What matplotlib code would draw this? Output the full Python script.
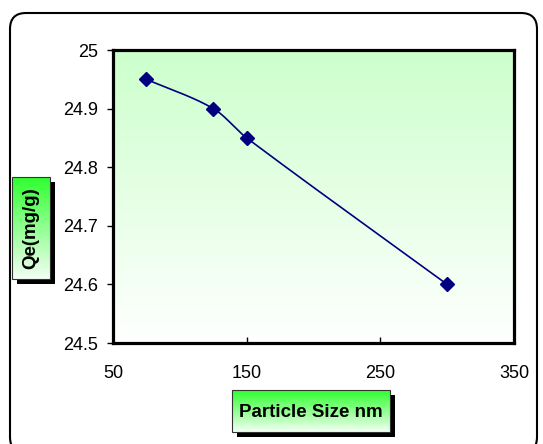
import numpy as np
import matplotlib
matplotlib.use("Agg")
import matplotlib.pyplot as plt
from matplotlib.patches import FancyBboxPatch, Rectangle
from matplotlib.colors import LinearSegmentedColormap

particle_size = [75, 125, 150, 300]
qe = [24.95, 24.90, 24.85, 24.60]
x_ticks = [50, 150, 250, 350]
y_ticks = [24.5, 24.6, 24.7, 24.8, 24.9, 25.0]
y_tick_labels = ["24.5", "24.6", "24.7", "24.8", "24.9", "25"]
x_label = "Particle Size nm"
y_label = "Qe(mg/g)"

W, H = 543, 444
plt.rcParams['font.family'] = ['Liberation Sans', 'DejaVu Sans']
fig = plt.figure(figsize=(W / 100, H / 100), dpi=100)

# overlay axes in pixel coordinates
ov = fig.add_axes([0, 0, 1, 1], zorder=0)
ov.set_xlim(0, W)
ov.set_ylim(H, 0)
ov.axis('off')

border = FancyBboxPatch((10, 13), 527, 440, boxstyle="round,pad=0,rounding_size=16",
                        fc='white', ec='black', lw=1.5)
ov.add_patch(border)

box_cmap = LinearSegmentedColormap.from_list('g', ['#2EFF2E', '#F4FFF4'])
grad = np.linspace(0, 1, 256).reshape(-1, 1)


def label_box(x0, y0, w, h, text, rotation):
    ov.add_patch(Rectangle((x0 + 5, y0 + 5), w, h, fc='black', ec='none', zorder=1))
    ov.imshow(grad, cmap=box_cmap, extent=[x0, x0 + w, y0 + h, y0], aspect='auto',
              zorder=2, interpolation='bilinear')
    ov.add_patch(Rectangle((x0, y0), w, h, fc='none', ec='#333333', lw=0.8, zorder=3))
    ov.text(x0 + w / 2, y0 + h / 2 + (0 if rotation else 1), text, rotation=rotation,
            ha='center', va='center', fontsize=13.5, fontweight='bold', zorder=4)


label_box(12, 177, 38, 102, y_label, 90)
label_box(232, 390, 158, 42, x_label, 0)
ov.set_xlim(0, W)
ov.set_ylim(H, 0)

# main axes
left, top, right, bottom = 113, 50, 514, 343
ax = fig.add_axes([left / W, 1 - bottom / H, (right - left) / W, (bottom - top) / H], zorder=2)
ax.set_xlim(x_ticks[0], x_ticks[-1])
ax.set_ylim(y_ticks[0], y_ticks[-1])

plot_cmap = LinearSegmentedColormap.from_list('p', ['#CCFFCC', '#FFFFFF'])
ax.imshow(grad, cmap=plot_cmap, extent=[x_ticks[0], x_ticks[-1], y_ticks[0], y_ticks[-1]],
          aspect='auto', zorder=0, interpolation='bilinear')

# smoothed line (Bezier in pixel space, tangents scaled by segment length)
xs = np.array(particle_size, float)
ys = np.array(qe, float)
x0, x1 = ax.get_xlim()
y0, y1 = ax.get_ylim()
px = (xs - x0) / (x1 - x0) * (right - left)
py = (ys - y0) / (y1 - y0) * (bottom - top)
P = np.column_stack([px, py])
n = len(P)
T = []
for i in range(n):
    a = P[i - 1] if i > 0 else P[i]
    b = P[i + 1] if i < n - 1 else P[i]
    d = b - a
    T.append(d / np.linalg.norm(d))
curve = []
t = np.linspace(0, 1, 50)[:, None]
for i in range(n - 1):
    p0, p1 = P[i], P[i + 1]
    L = np.linalg.norm(p1 - p0)
    c1 = p0 + T[i] * L / 3
    c2 = p1 - T[i + 1] * L / 3
    seg = ((1 - t) ** 3 * p0 + 3 * (1 - t) ** 2 * t * c1
           + 3 * (1 - t) * t ** 2 * c2 + t ** 3 * p1)
    curve.append(seg)
curve = np.vstack(curve)
cx = curve[:, 0] / (right - left) * (x1 - x0) + x0
cy = curve[:, 1] / (bottom - top) * (y1 - y0) + y0
ax.plot(cx, cy, color='#000080', lw=1.2, zorder=3)
ax.plot(xs, ys, linestyle='none', marker='D', ms=7, color='#000080', zorder=4)

ax.set_xticks(x_ticks)
ax.set_xticklabels([str(v) for v in x_ticks])
ax.set_yticks(y_ticks)
ax.set_yticklabels(y_tick_labels)
ax.tick_params(axis='x', direction='in', length=4, width=1, pad=16, labelsize=13)
ax.tick_params(axis='y', direction='out', length=4, width=1, pad=7, labelsize=13)
for s in ax.spines.values():
    s.set_linewidth(2.3)
    s.set_color('black')

fig.savefig('out.png', dpi=100)
